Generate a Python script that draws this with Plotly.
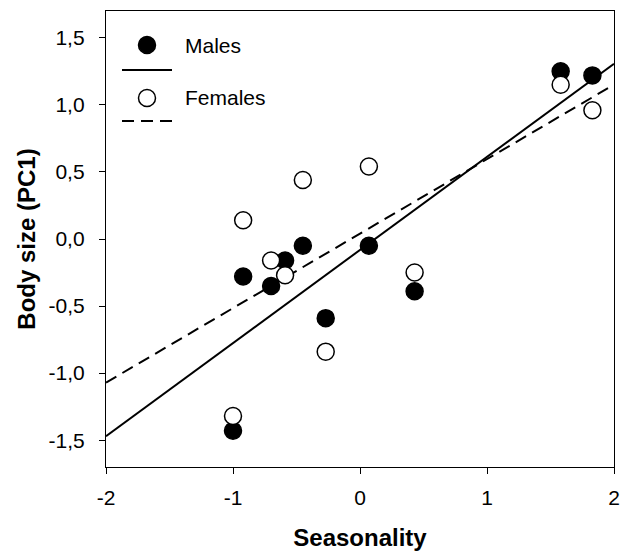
import numpy as np
import plotly.graph_objects as go

# ---- data ----
seasonality = [-1.00, -0.92, -0.70, -0.59, -0.45, -0.27, 0.07, 0.43, 1.58, 1.83]
males_pc1 = [-1.43, -0.28, -0.35, -0.16, -0.05, -0.59, -0.05, -0.39, 1.25, 1.22]
females_pc1 = [-1.32, 0.14, -0.16, -0.27, 0.44, -0.84, 0.54, -0.25, 1.15, 0.96]

x_tick_vals = [-2, -1, 0, 1, 2]
x_tick_labels = ["-2", "-1", "0", "1", "2"]
y_tick_vals = [-1.5, -1.0, -0.5, 0.0, 0.5, 1.0, 1.5]
y_tick_labels = ["-1,5", "-1,0", "-0,5", "0,0", "0,5", "1,0", "1,5"]
fit_x = [-2, 2]

FONT = "Liberation Sans, Arial, sans-serif"

# least-squares regression lines
m_slope, m_int = np.polyfit(seasonality, males_pc1, 1)
f_slope, f_int = np.polyfit(seasonality, females_pc1, 1)
fx = np.array(fit_x, dtype=float)

fig = go.Figure()
fig.add_trace(go.Scatter(x=fx, y=m_slope * fx + m_int, mode="lines",
                         line=dict(color="black", width=2), showlegend=False))
fig.add_trace(go.Scatter(x=fx, y=f_slope * fx + f_int, mode="lines",
                         line=dict(color="black", width=2, dash="12px,7px"), showlegend=False))
fig.add_trace(go.Scatter(x=seasonality, y=males_pc1, mode="markers", name="Males",
                         marker=dict(size=17, color="black", line=dict(color="black", width=1.5)),
                         showlegend=False))
fig.add_trace(go.Scatter(x=seasonality, y=females_pc1, mode="markers", name="Females",
                         marker=dict(size=17, color="white", line=dict(color="black", width=1.5)),
                         showlegend=False))

# ---- manual legend (top-left, inside plot) ----
PL, PR, PT, PB = 106, 614, 11, 467


def px_to_paper_x(p):
    return (p - PL) / float(PR - PL)


def px_to_paper_y(p):
    return (PB - p) / float(PB - PT)


shapes = []
for cy, fill in [(45, "black"), (98, "white")]:
    shapes.append(dict(type="circle", xref="paper", yref="paper",
                       xsizemode="pixel", ysizemode="pixel",
                       xanchor=px_to_paper_x(147), yanchor=px_to_paper_y(cy),
                       x0=-8.5, x1=8.5, y0=-8.5, y1=8.5,
                       fillcolor=fill, line=dict(color="black", width=1.5)))
shapes.append(dict(type="line", xref="paper", yref="paper",
                   x0=px_to_paper_x(122), x1=px_to_paper_x(172),
                   y0=px_to_paper_y(70), y1=px_to_paper_y(70),
                   line=dict(color="black", width=2)))
shapes.append(dict(type="line", xref="paper", yref="paper",
                   x0=px_to_paper_x(122), x1=px_to_paper_x(172),
                   y0=px_to_paper_y(121), y1=px_to_paper_y(121),
                   line=dict(color="black", width=2, dash="12px,7px")))

annotations = [
    dict(text="Males", xref="paper", yref="paper", x=px_to_paper_x(183), y=px_to_paper_y(45),
         xanchor="left", yanchor="middle", showarrow=False, font=dict(family=FONT, size=21, color="black")),
    dict(text="Females", xref="paper", yref="paper", x=px_to_paper_x(183), y=px_to_paper_y(98),
         xanchor="left", yanchor="middle", showarrow=False, font=dict(family=FONT, size=21, color="black")),
]

axis_common = dict(showline=True, mirror=True, linecolor="black", linewidth=1.3,
                   ticks="outside", ticklen=6, tickwidth=1.3, tickcolor="black",
                   showgrid=False, zeroline=False, automargin=False,
                   tickfont=dict(family=FONT, size=21, color="black"))

fig.update_layout(
    width=620, height=551,
    margin=dict(l=PL, r=620 - PR, t=PT, b=551 - PB, autoexpand=False),
    paper_bgcolor="white", plot_bgcolor="white",
    font=dict(family=FONT, color="black"),
    shapes=shapes, annotations=annotations,
    xaxis=dict(range=[-2, 2], tickvals=x_tick_vals, ticktext=x_tick_labels,
               title=dict(text="<b>Seasonality</b>", font=dict(family=FONT, size=24, color="black"), standoff=20),
               ticklabelstandoff=6, **axis_common),
    yaxis=dict(range=[-1.7, 1.7], tickvals=y_tick_vals, ticktext=y_tick_labels,
               title=dict(text="<b>Body size (PC1)</b>", font=dict(family=FONT, size=24, color="black"), standoff=6),
               ticklabelstandoff=10, **axis_common),
)

fig.write_html("out.html",
               config={"displayModeBar": False},
               post_script="document.body.style.margin='0';document.body.style.overflow='hidden';")
